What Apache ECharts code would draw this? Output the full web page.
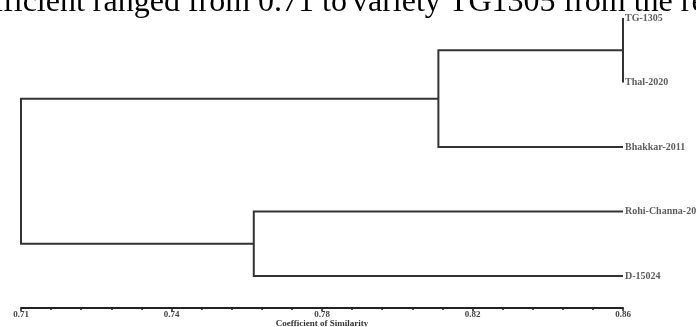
<!DOCTYPE html>
<html>
<head>
<meta charset="utf-8">
<script src="https://cdn.jsdelivr.net/npm/echarts@6/dist/echarts.min.js"></script>
<style>html,body{margin:0;padding:0;background:#fff;}#c{width:696px;height:327px;}</style>
</head>
<body>
<div id="c"></div>
<script>
// Leaves (top to bottom)
const leaves = ['TG-1305', 'Thal-2020', 'Bhakkar-2011', 'Rohi-Channa-2000', 'D-15024'];
const leafLevel = 0.86;
// Merges: node ids 0..4 are leaves, merge k creates node 5+k
const mergeA = [0, 5, 3, 6];
const mergeB = [1, 2, 4, 7];
const mergeLevel = [0.86, 0.814, 0.768, 0.71];
// Axis ticks
const tickLabels = ['0.71', '0.74', '0.78', '0.82', '0.86'];
const axisTitle = 'Coefficient of Similarity';
// Surrounding page text (cut off at the top of the picture)
const pageTextLeft = 'Coefficient ranged from 0.71 to';
const pageTextRight = 'variety TG1305 from the rest of';

const nodeX = leaves.map(() => leafLevel);
const nodeY = leaves.map((_, i) => i);
const segs = [];
mergeLevel.forEach((lvl, k) => {
  const a = mergeA[k], b = mergeB[k];
  segs.push({ coords: [[nodeX[a], nodeY[a]], [lvl, nodeY[a]], [lvl, nodeY[b]], [nodeX[b], nodeY[b]]] });
  nodeX.push(lvl);
  nodeY.push((nodeY[a] + nodeY[b]) / 2);
});

const serif = "'Liberation Serif','Times New Roman',serif";
const chart = echarts.init(document.getElementById('c'));
chart.setOption({
  animation: false,
  backgroundColor: '#fff',
  grid: { left: 21, right: 73, top: 18, bottom: 51, containLabel: false, outerBoundsMode: 'none' },
  xAxis: {
    type: 'value', min: 0.71, max: 0.86, interval: 0.0375,
    position: 'bottom', offset: 32,
    name: axisTitle, nameLocation: 'middle', nameGap: 11, nameMoveOverlap: false,
    nameTextStyle: { fontFamily: serif, fontWeight: 'bold', fontSize: 9, color: '#333' },
    axisLine: { show: true, onZero: false, lineStyle: { color: '#222', width: 2 } },
    axisTick: { show: true, length: 3, lineStyle: { color: '#222', width: 1.5 } },
    minorTick: { show: true, splitNumber: 5, length: 2, lineStyle: { color: '#222', width: 1.5 } },
    splitLine: { show: false },
    axisLabel: {
      margin: 2, fontFamily: serif, fontWeight: 'bold', fontSize: 9, color: '#444',
      formatter: (v, i) => tickLabels[i] ?? ''
    }
  },
  yAxis: { type: 'value', inverse: true, min: 0, max: 4, show: false },
  series: [
    {
      type: 'lines', coordinateSystem: 'cartesian2d', polyline: true, clip: false, silent: true,
      lineStyle: { color: '#333', width: 2, opacity: 1 },
      data: segs
    },
    {
      type: 'scatter', symbolSize: 0, clip: false, silent: true,
      data: leaves.map((n, i) => [leafLevel, i]),
      label: {
        show: true, position: 'right', distance: 2,
        fontFamily: serif, fontWeight: 'bold', fontSize: 10, color: '#333',
        formatter: p => leaves[p.dataIndex]
      }
    }
  ],
  graphic: [
    { type: 'text', x: 347, y: 3, silent: true,
      style: { text: pageTextLeft, font: '32px ' + serif, fill: '#000', align: 'right', verticalAlign: 'middle' } },
    { type: 'text', x: 352, y: 3, silent: true,
      style: { text: pageTextRight, font: '32px ' + serif, fill: '#000', align: 'left', verticalAlign: 'middle' } }
  ]
});
</script>
</body>
</html>
